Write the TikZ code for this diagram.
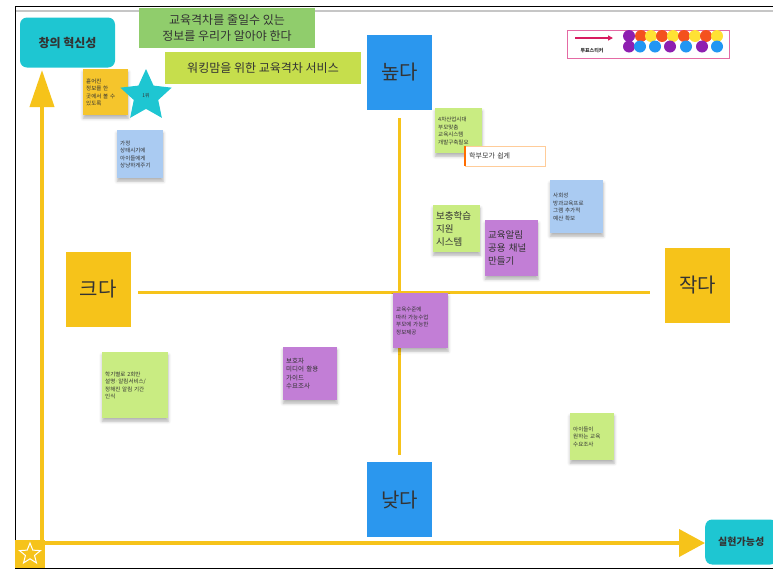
\documentclass[tikz,border=0pt]{standalone}
\usepackage{fontspec}
\setmainfont{Noto Sans CJK KR}
\usetikzlibrary{shapes.geometric,arrows.meta,shadows.blur}
\definecolor{cteal}{HTML}{1EC6D2}
\definecolor{cblue}{HTML}{2B97EE}
\definecolor{cyel}{HTML}{F6C31A}
\definecolor{cgreenH}{HTML}{90CD6C}
\definecolor{cygreen}{HTML}{C6DE4C}
\definecolor{ngreen}{HTML}{C9EC82}
\definecolor{npurple}{HTML}{C27ED6}
\definecolor{nblue}{HTML}{AACBF2}
\definecolor{nyellow}{HTML}{F5C52C}
\definecolor{ctext}{HTML}{333333}
\definecolor{dpurple}{HTML}{8E1FB0}
\definecolor{dorange}{HTML}{F4511E}
\definecolor{dyellow}{HTML}{FFE234}
\definecolor{dblue}{HTML}{2196F3}
\definecolor{cmag}{HTML}{D81B60}
\definecolor{cpink}{HTML}{E46AA4}
\begin{document}
\begin{tikzpicture}[x=1pt,y=-1pt,
  note/.style={anchor=north west, inner sep=3pt, align=left, text=ctext,
    font=\fontsize{5.5}{7.5}\selectfont,
    blur shadow={shadow xshift=0pt, shadow yshift=-3pt, shadow blur radius=3pt, shadow opacity=30}},
  bignote/.style={note, font=\fontsize{9.5}{13}\selectfont},
  levelbox/.style={minimum width=65pt, minimum height=75pt, inner sep=0pt, text=ctext, font=\fontsize{20}{24}\selectfont},
  axisbox/.style={fill=cteal, rounded corners=7pt, inner sep=0pt, text=ctext, font=\bfseries\fontsize{12}{14}\selectfont},
  header/.style={inner sep=0pt, align=center, text=ctext, font=\fontsize{12}{16}\selectfont},
  axisline/.style={cyel, line width=3pt},
  bigarrow/.style={cyel, line width=4pt}
]
\useasboundingbox (0,0) rectangle (773,571);
% frame
\draw[gray!45, line width=1.5pt] (15,11) -- (773,11);
\draw[black, line width=1pt] (773,6) -- (15,6) -- (15,568) -- (773,568);

% headers
\node[header, fill=cgreenH, minimum width=176pt, minimum height=40pt] (h1) at (227,28) {교육격차를 줄일수 있는\\정보를 우리가 알아야 한다};
\node[header, fill=cygreen, minimum width=196pt, minimum height=32pt] (h2) at (263,68) {워킹맘을 위한 교육격차 서비스};

% axis label boxes
\node[axisbox, minimum width=95pt, minimum height=50pt] (yl) at (67.5,42.5) {창의 혁신성};
\node[axisbox, font=\bfseries\fontsize{10}{12}\selectfont, minimum width=72pt, minimum height=45pt, anchor=west] (xl) at (705,542) {실현가능성};

% big arrows
\coordinate (org) at (42,556);
\coordinate (xs) at (30,543);
\coordinate (yt) at (42,70);
\draw[bigarrow, -{Triangle[length=37pt,width=24pt]}] (org) -- (yt);
\draw[bigarrow, -{Triangle[length=26pt,width=27pt]}] (xs) -- (xl.west |- xs);

% bottom-left star box
\node[fill=cyel, minimum width=30pt, minimum height=28pt, inner sep=0pt] (sbox) at (30,554) {};
\node[draw=white, line width=1pt, star, star points=5, star point ratio=2.3, minimum size=22pt, inner sep=0pt] (sstar) at (sbox.center) {};

% level boxes
\node[levelbox, fill=cblue] (high) at (399.5,72.5) {높다};
\node[levelbox, fill=cblue] (low) at (399.5,499.5) {낮다};
\node[levelbox, fill=cyel] (big) at (98,289.5) {크다};
\node[levelbox, fill=cyel] (small) at (697.5,285) {작다};

% cross lines
\coordinate (hl) at (138,292);
\coordinate (hr) at (650,292);
\coordinate (vt) at (399,118);
\coordinate (vb) at (399,455);
\draw[axisline] (hl) -- (hr);
\draw[axisline] (vt) -- (vb);

% sticky notes
\node[note, fill=nyellow, text width=39pt, minimum height=46pt] (n1) at (83,69) {흩어진\\정보를 한\\곳에서 볼 수\\있도록};
\node[fill=cteal, star, star points=5, star point ratio=2.1, minimum size=54pt, inner sep=0pt, font=\fontsize{5}{6}\selectfont, text=ctext] (rank) at (146,96) {1위};
\node[note, fill=nblue, text width=40pt, minimum height=48pt] (n2) at (117,130) {가정\\상태시기에\\아이들에게\\상냥하게주기};
\node[note, fill=ngreen, text width=41pt, minimum height=45pt] (n3) at (435,108) {4차산업시대\\부모맞춤\\교육시스템\\개발구축필요};
\node[anchor=north west, fill=white, draw=orange!40, minimum width=80pt, minimum height=20pt, inner sep=3pt, text width=72pt, font=\fontsize{7}{8}\selectfont, text=ctext] (n4) at (465,146) {학부모가 쉽게};
\draw[orange!85!red, line width=1.2pt] (n4.north west) -- (n4.south west);
\node[note, fill=nblue, text width=47pt, minimum height=53pt] (n5) at (550,180) {사회성\\방과교육프로\\그램 추가적\\예산 확보};
\node[bignote, fill=ngreen, text width=41pt, minimum height=47pt] (n6) at (433,205) {보충학습\\지원\\시스템};
\node[bignote, fill=npurple, text width=47pt, minimum height=56pt] (n7) at (485,220) {교육알림\\공용 채널\\만들기};
\node[note, fill=npurple, text width=49pt, minimum height=55pt] (n8) at (393,293) {교육수준에\\따라 가능수업\\부모에 가능한\\정보제공};
\node[note, fill=ngreen, text width=60pt, minimum height=66pt] (n9) at (102,352) {학기별로 2회만\\설명·알림서비스/\\정해진 알림 기간\\인식};
\node[note, fill=npurple, text width=48pt, minimum height=53pt, font=\fontsize{6.5}{8.5}\selectfont] (n10) at (283,347) {보호자\\미디어 활용\\가이드\\수요조사};
\node[note, fill=ngreen, text width=38pt, minimum height=47pt] (n11) at (570,413) {아이들이\\원하는 교육\\수요조사};

% vote sticker box
\node[draw=cpink, line width=0.8pt, anchor=north west, minimum width=162pt, minimum height=28pt, inner sep=0pt] (vote) at (567,30) {};
\coordinate (va) at (575,38);
\coordinate (vb2) at (613,38);
\draw[cmag, line width=1.2pt, -{Triangle[length=5pt,width=5pt]}] (va) -- (vb2);
\node[font=\bfseries\fontsize{5}{6}\selectfont, text=ctext, inner sep=0pt] (vtext) at (592,51) {투표스티커};
\foreach \x/\c in {629/dpurple,641/dorange,651/dyellow,662/dorange,673/dyellow,684/dorange,695/dyellow,706/dorange,717/dyellow}
  \fill[\c] (\x,36) circle (6pt);
\foreach \x/\c in {629/dpurple,640/dblue,655/dblue,670/dpurple,686/dblue,702/dpurple,717/dblue}
  \fill[\c] (\x,46.5) circle (6pt);
\end{tikzpicture}
\end{document}
